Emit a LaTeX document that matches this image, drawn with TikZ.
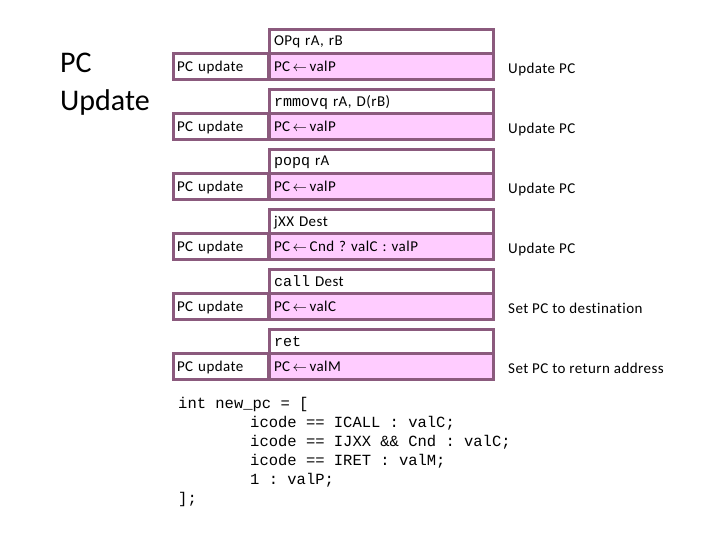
\documentclass[tikz,border=0pt]{standalone}
\usepackage{fontspec}
\setmainfont[LetterSpace=3,Ligatures=NoCommon]{Carlito}
\newfontfamily\titlefont{Carlito}
\newfontfamily\codefont{Liberation Mono}
\definecolor{frame}{HTML}{8B5A7D}
\definecolor{pinkfill}{HTML}{FFCCFF}
\newcommand\pcrow[5]{%
  \node[instbox] (ins#1) at (269,#2) {#3};
  \node[calcbox] (calc#1) at (269,#2+24) {#4};
  \node[updbox] (upd#1) at (173,#2+24) {PC update};
  \node[desc] (desc#1) at (508,#2+44) {#5};
}
\newcommand\arr{\,$\leftarrow$\,}
\begin{document}
\frenchspacing
\begin{tikzpicture}[x=1pt,y=-1pt,
  box/.style={draw=frame, line width=3pt, rectangle, inner sep=0pt, outer sep=0pt, anchor=north west, align=left, text depth=0pt, font=\fontsize{15}{17}\selectfont},
  instbox/.style={box, fill=white, minimum width=224pt, minimum height=24pt, text width=214pt, inner xsep=5pt},
  calcbox/.style={box, fill=pinkfill, minimum width=224pt, minimum height=26pt, text width=214pt, inner xsep=5pt},
  updbox/.style={box, fill=white, minimum width=95pt, minimum height=26pt, text width=87pt, inner xsep=4pt},
  desc/.style={anchor=base west, inner sep=0pt, font=\fontsize{15}{17}\selectfont},
  code/.style={anchor=base west, inner sep=0pt, font=\codefont\fontsize{15.5}{19}\selectfont},
  title/.style={anchor=base west, inner sep=0pt, font=\titlefont\fontsize{30}{36}\selectfont}
]
\useasboundingbox (0,0) rectangle (719,539);
\node[title] (t1) at (60,72) {PC};
\node[title] (t2) at (60,110) {Update};
\pcrow{1}{29}{OPq rA, rB}{PC\arr valP}{Update PC}
\pcrow{2}{89}{{\codefont rmmovq} rA, D(rB)}{PC\arr valP}{Update PC}
\pcrow{3}{149}{{\codefont popq} rA}{PC\arr valP}{Update PC}
\pcrow{4}{209}{jXX Dest}{PC\arr Cnd ? valC : valP}{Update PC}
\pcrow{5}{269}{{\codefont call} Dest}{PC\arr valC}{Set PC to destination}
\pcrow{6}{329}{{\codefont ret}}{PC\arr valM}{Set PC to return address}
\node[code] (c1) at (178,408) {int new\_pc = [};
\node[code] (c2) at (250,427) {icode == ICALL : valC;};
\node[code] (c3) at (250,446) {icode == IJXX \&\& Cnd : valC;};
\node[code] (c4) at (250,465) {icode == IRET : valM;};
\node[code] (c5) at (250,484) {1 : valP;};
\node[code] (c6) at (178,503) {];};
\end{tikzpicture}
\end{document}
